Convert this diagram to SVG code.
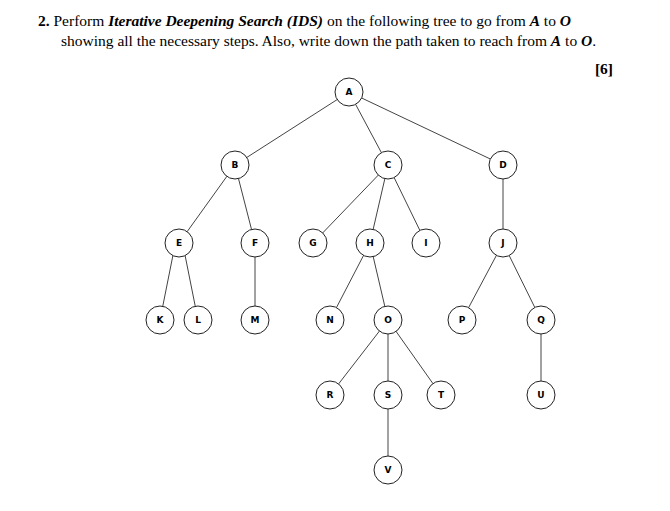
<svg xmlns="http://www.w3.org/2000/svg" width="670" height="511" viewBox="0 0 670 511">
<style>
.t{font-family:"Liberation Serif",serif;font-size:15.5px;fill:#000}
.n circle{fill:#fff;stroke:#222;stroke-width:1}
.n text{font-family:"DejaVu Sans",sans-serif;font-size:9px;font-weight:bold;text-anchor:middle;fill:#000}
#edges line{stroke:#444;stroke-width:1}
</style>
<rect width="670" height="511" fill="#fff"/>
<text class="t" x="38" y="26"><tspan font-weight="bold">2.</tspan>  Perform <tspan font-weight="bold" font-style="italic">Iterative Deepening Search (IDS)</tspan> on the following tree to go from <tspan font-weight="bold" font-style="italic">A</tspan> to <tspan font-weight="bold" font-style="italic">O</tspan></text>
<text class="t" x="61" y="46">showing all the necessary steps. Also, write down the path taken to reach from <tspan font-weight="bold" font-style="italic">A</tspan> to <tspan font-weight="bold" font-style="italic">O</tspan>.</text>
<text class="t" x="613" y="74" font-weight="bold" text-anchor="end">[6]</text>
<g id="edges">
<line x1="349" y1="92" x2="235" y2="165"/><line x1="349" y1="92" x2="388" y2="165"/><line x1="349" y1="92" x2="503" y2="165"/>
<line x1="235" y1="165" x2="179" y2="243"/><line x1="235" y1="165" x2="255" y2="243"/>
<line x1="388" y1="165" x2="313" y2="243"/><line x1="388" y1="165" x2="370" y2="243"/><line x1="388" y1="165" x2="426" y2="243"/>
<line x1="503" y1="165" x2="503" y2="243"/>
<line x1="174" y1="250" x2="160" y2="320"/><line x1="184" y1="250" x2="198" y2="320"/>
<line x1="255" y1="243" x2="255" y2="320"/>
<line x1="370" y1="243" x2="330" y2="320"/><line x1="370" y1="243" x2="388" y2="320"/>
<line x1="503" y1="243" x2="462" y2="320"/><line x1="503" y1="243" x2="541" y2="320"/>
<line x1="388" y1="320" x2="330" y2="395"/><line x1="388" y1="320" x2="388" y2="395"/><line x1="388" y1="320" x2="441" y2="395"/>
<line x1="541" y1="320" x2="541" y2="395"/>
<line x1="388" y1="395" x2="388" y2="470"/>
</g>
<g id="A" class="n"><circle cx="349" cy="92" r="14"/><text x="349" y="95">A</text></g>
<g id="B" class="n"><circle cx="235" cy="165" r="14"/><text x="235" y="168">B</text></g>
<g id="C" class="n"><circle cx="388" cy="165" r="14"/><text x="388" y="168">C</text></g>
<g id="D" class="n"><circle cx="503" cy="165" r="14"/><text x="503" y="168">D</text></g>
<g id="E" class="n"><circle cx="179" cy="243" r="14"/><text x="179" y="246">E</text></g>
<g id="F" class="n"><circle cx="255" cy="243" r="14"/><text x="255" y="246">F</text></g>
<g id="G" class="n"><circle cx="313" cy="243" r="14"/><text x="313" y="246">G</text></g>
<g id="H" class="n"><circle cx="370" cy="243" r="14"/><text x="370" y="246">H</text></g>
<g id="I" class="n"><circle cx="426" cy="243" r="14"/><text x="426" y="246" font-family="Liberation Serif,serif">I</text></g>
<g id="J" class="n"><circle cx="503" cy="243" r="14"/><text x="503" y="246">J</text></g>
<g id="K" class="n"><circle cx="160" cy="320" r="14"/><text x="160" y="323">K</text></g>
<g id="L" class="n"><circle cx="198" cy="320" r="14"/><text x="198" y="323">L</text></g>
<g id="M" class="n"><circle cx="255" cy="320" r="14"/><text x="255" y="323">M</text></g>
<g id="N" class="n"><circle cx="330" cy="320" r="14"/><text x="330" y="323">N</text></g>
<g id="O" class="n"><circle cx="388" cy="320" r="14"/><text x="388" y="323">O</text></g>
<g id="P" class="n"><circle cx="462" cy="320" r="14"/><text x="462" y="323">P</text></g>
<g id="Q" class="n"><circle cx="541" cy="320" r="14"/><text x="541" y="323">Q</text></g>
<g id="R" class="n"><circle cx="330" cy="395" r="14"/><text x="330" y="398">R</text></g>
<g id="S" class="n"><circle cx="388" cy="395" r="14"/><text x="388" y="398">S</text></g>
<g id="T" class="n"><circle cx="441" cy="395" r="14"/><text x="441" y="398">T</text></g>
<g id="U" class="n"><circle cx="541" cy="395" r="14"/><text x="541" y="398">U</text></g>
<g id="V" class="n"><circle cx="388" cy="470" r="14"/><text x="388" y="473">V</text></g>
</svg>
